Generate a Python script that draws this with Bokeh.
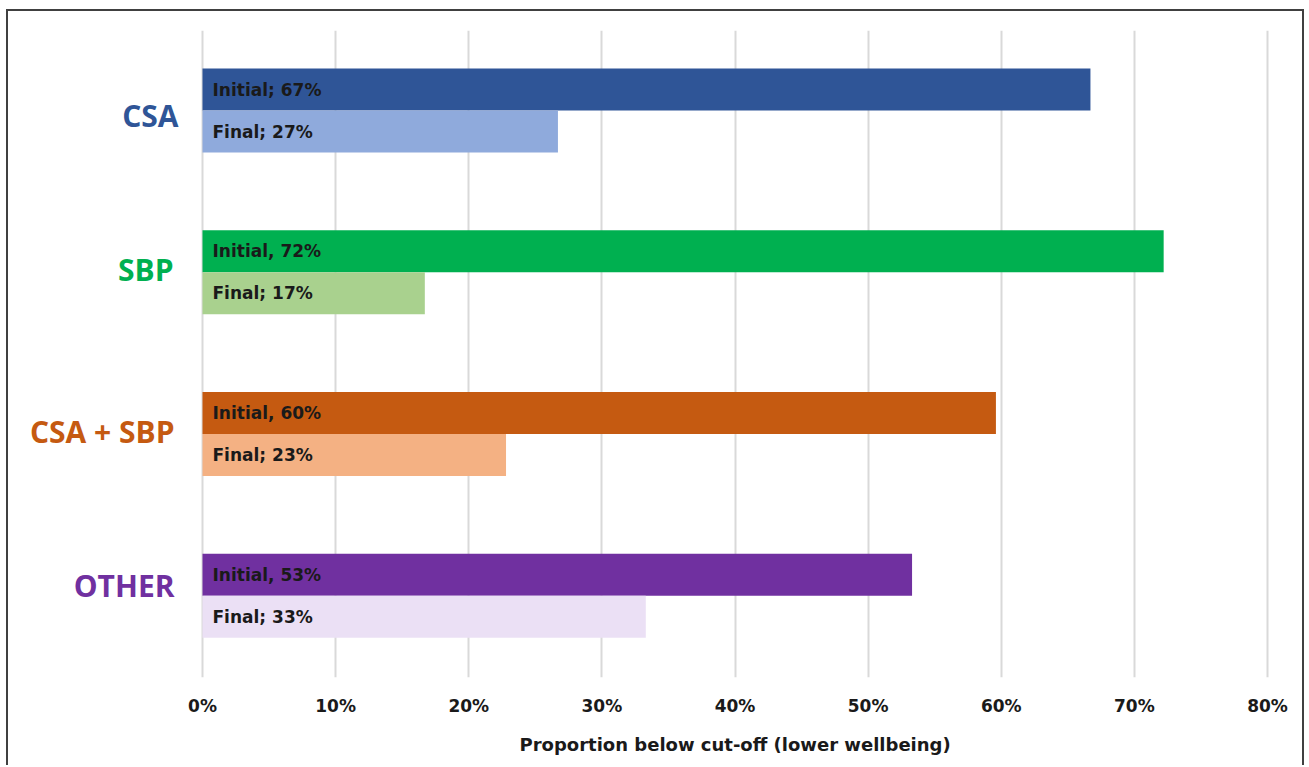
from bokeh.plotting import figure
from bokeh.models import FactorRange, Range1d, FixedTicker, PrintfTickFormatter, ColumnDataSource, Title
from bokeh.transform import dodge
from bokeh.core.properties import value
from bokeh.embed import file_html
from bokeh.resources import INLINE

# ---- data ----
categories = ["CSA", "SBP", "CSA + SBP", "OTHER"]
initial_values = [66.7, 72.2, 59.6, 53.3]
final_values = [26.7, 16.7, 22.8, 33.3]
initial_labels = ["Initial; 67%", "Initial, 72%", "Initial, 60%", "Initial, 53%"]
final_labels = ["Final; 27%", "Final; 17%", "Final; 23%", "Final; 33%"]
x_ticks = [0, 10, 20, 30, 40, 50, 60, 70, 80]
x_title = "Proportion below cut-off (lower wellbeing)"

# ---- style ----
cat_colors = ["#2F5597", "#00B050", "#C55A11", "#7030A0"]
initial_colors = ["#2F5597", "#00B050", "#C55A11", "#7030A0"]
final_colors = ["#8FAADC", "#A9D18E", "#F4B183", "#EBE0F5"]
label_dx = [-24, -29, -28, -28]
label_dy = [4, -4, -3, -11]

src = ColumnDataSource(dict(
    cat=categories, ini=initial_values, fin=final_values,
    ini_lab=initial_labels, fin_lab=final_labels,
    cat_col=cat_colors, ini_col=initial_colors, fin_col=final_colors,
    dx=label_dx, dy=label_dy,
    zero=[0] * len(categories),
))

# plot frame spans the full width; the negative x region holds the category labels
PX_PER_UNIT = 1065 / 80.0
x_start = -194 / PX_PER_UNIT
x_end = 80 + 39 / PX_PER_UNIT

p = figure(
    width=1298, height=756,
    y_range=FactorRange(factors=list(reversed(categories)), range_padding=0),
    x_range=Range1d(x_start, x_end),
    output_backend="svg", toolbar_location=None,
    min_border_left=0, min_border_right=0, min_border_top=19, min_border_bottom=89,
    styles={"margin-left": "6px", "margin-top": "9px",
            "border-top": "2px solid #404040", "border-left": "2px solid #404040",
            "border-right": "2px solid #404040"},
)

p.xgrid.ticker = FixedTicker(ticks=x_ticks)
p.xgrid.grid_line_color = "#d9d9d9"
p.xgrid.grid_line_width = 2
p.ygrid.grid_line_color = None

p.hbar(y=dodge("cat", 0.135, range=p.y_range), left=0, right="ini", height=0.26,
       fill_color="ini_col", line_color=None, source=src)
p.hbar(y=dodge("cat", -0.125, range=p.y_range), left=0, right="fin", height=0.26,
       fill_color="fin_col", line_color=None, source=src)

p.text(x="zero", y=dodge("cat", 0.135, range=p.y_range), text="ini_lab", x_offset=10,
       text_baseline="middle", text_align="left", text_font=value("DejaVu Sans"),
       text_font_style="bold", text_font_size="17px", text_color="#1a1a1a", source=src)
p.text(x="zero", y=dodge("cat", -0.125, range=p.y_range), text="fin_lab", x_offset=10,
       text_baseline="middle", text_align="left", text_font=value("DejaVu Sans"),
       text_font_style="bold", text_font_size="17px", text_color="#1a1a1a", source=src)

# category labels (colored)
p.text(x="zero", y="cat", text="cat", x_offset="dx", y_offset="dy",
       text_baseline="middle", text_align="right", text_font=value("Open Sans"),
       text_font_style="bold", text_font_size="30px", text_color="cat_col", source=src)

p.yaxis.visible = False

p.xaxis.ticker = FixedTicker(ticks=x_ticks)
p.xaxis.formatter = PrintfTickFormatter(format="%d%%")
p.xaxis.axis_line_color = None
p.xaxis.major_tick_line_color = None
p.xaxis.minor_tick_line_color = None
p.xaxis.major_label_text_font = "DejaVu Sans"
p.xaxis.major_label_text_font_style = "bold"
p.xaxis.major_label_text_font_size = "17px"
p.xaxis.major_label_text_color = "#1a1a1a"
p.xaxis.major_label_standoff = 12

# axis title, placed under the value axis (not under the label column)
t = Title(text=x_title, align="left", offset=511, text_font="DejaVu Sans",
          text_font_style="bold", text_font_size="18px", text_color="#1a1a1a",
          standoff=26)
p.add_layout(t, "below")

p.outline_line_color = None
p.background_fill_color = "white"
p.border_fill_color = "white"

open("out.html", "w").write(file_html(p, INLINE))
